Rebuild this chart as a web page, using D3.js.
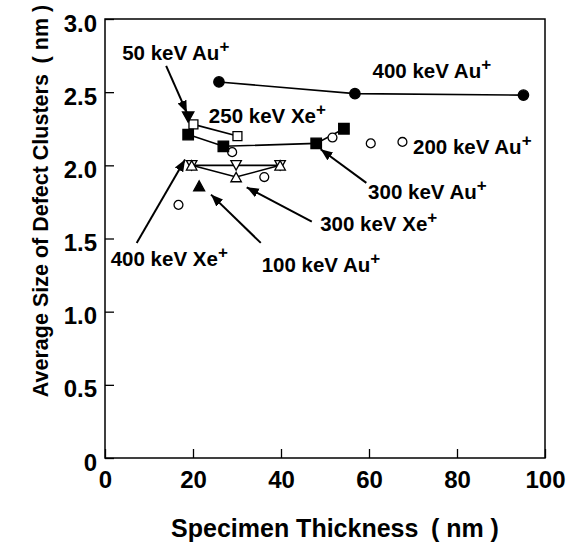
<!DOCTYPE html>
<html>
<head>
<meta charset="utf-8">
<script src="https://cdn.jsdelivr.net/npm/d3@7"></script>
<style>
  body { margin: 0; background: #fff; }
  text { font-family: "Liberation Sans", Arial, sans-serif; font-weight: bold; fill: #000; }
</style>
</head>
<body>
<div id="chart"></div>
<script>
// data (thickness nm, cluster size nm)
var au400 = [[25.9, 2.57], [56.8, 2.49], [95.1, 2.48]];
var xe250 = [[20.1, 2.28], [30.1, 2.20]];
var au300 = [[18.9, 2.21], [26.9, 2.13], [48.0, 2.15], [54.3, 2.25]];
var au50 = [[18.9, 2.33]];
var au200 = [[16.7, 1.73], [28.9, 2.09], [36.2, 1.92], [51.7, 2.19], [60.4, 2.15], [67.6, 2.16]];
var au100 = [[21.4, 1.86]];
var xe400 = [[19.7, 2.00], [29.8, 2.00], [39.8, 2.00]];
var xe300 = [[19.7, 2.00], [29.8, 1.92], [39.8, 2.00]];

var xTicks = [0, 20, 40, 60, 80, 100];
var yTicks = [0, 0.5, 1.0, 1.5, 2.0, 2.5, 3.0];

// labels: text, position (data units), arrow tail and head (data units) or null
var labels = [
  {ion: "50 keV Au", at: [3.9, 2.72], arrow: [[13.9, 2.68], [18.6, 2.36]]},
  {ion: "250 keV Xe", at: [23.6, 2.29], arrow: null},
  {ion: "400 keV Au", at: [60.8, 2.60], arrow: null},
  {ion: "200 keV Au", at: [70.0, 2.075], arrow: null},
  {ion: "300 keV Au", at: [59.8, 1.77], arrow: [[59.4, 1.88], [49.0, 2.11]]},
  {ion: "300 keV Xe", at: [48.9, 1.55], arrow: [[47.0, 1.615], [32.2, 1.85]]},
  {ion: "400 keV Xe", at: [1.3, 1.31], arrow: [[7.2, 1.47], [18.2, 2.04]]},
  {ion: "100 keV Au", at: [35.6, 1.27], arrow: [[35.4, 1.47], [24.1, 1.80]]}
];

var W = 581, H = 546;
var margin = {top: 19, right: 36, bottom: 88, left: 105};
var width = W - margin.left - margin.right,
    height = H - margin.top - margin.bottom;

var svg = d3.select("#chart").append("svg")
    .attr("width", W).attr("height", H);

svg.append("defs").append("marker")
    .attr("id", "head")
    .attr("viewBox", "0 0 10 10")
    .attr("refX", 10).attr("refY", 5)
    .attr("markerWidth", 12).attr("markerHeight", 12)
    .attr("markerUnits", "userSpaceOnUse")
    .attr("orient", "auto")
  .append("path").attr("d", "M0,1 L10,5 L0,9 Z").attr("fill", "#000");

var g = svg.append("g")
    .attr("transform", "translate(" + margin.left + "," + margin.top + ")");

var x = d3.scaleLinear().domain([0, 100]).range([0, width]);
var y = d3.scaleLinear().domain([0, 3]).range([height, 0]);

// frame
g.append("rect")
    .attr("width", width).attr("height", height)
    .attr("fill", "none").attr("stroke", "#000").attr("stroke-width", 1.5);

// axes with inward ticks
var xAxis = g.append("g")
    .attr("transform", "translate(0," + height + ")")
    .call(d3.axisBottom(x).tickValues(xTicks).tickSizeInner(-9).tickSizeOuter(0).tickPadding(13)
      .tickFormat(d3.format("d")));
xAxis.select(".domain").remove();
xAxis.selectAll("line").attr("stroke-width", 1.3);
xAxis.selectAll("text").style("font-size", "24px").style("font-family", "Liberation Sans, Arial, sans-serif").style("font-weight", "bold");

var yAxis = g.append("g")
    .call(d3.axisLeft(y).tickValues(yTicks).tickSizeInner(-9).tickSizeOuter(0).tickPadding(8)
      .tickFormat(function(d) { return d === 0 ? "0" : d3.format(".1f")(d); }));
yAxis.select(".domain").remove();
yAxis.selectAll("line").attr("stroke-width", 1.3);
yAxis.selectAll("text").attr("dy", "0.5em").style("font-size", "24px").style("font-family", "Liberation Sans, Arial, sans-serif").style("font-weight", "bold");

// axis titles
svg.append("text")
    .attr("x", 335).attr("y", 537)
    .attr("text-anchor", "middle")
    .style("font-size", "25px")
    .text("Specimen Thickness\u2002( nm )");
svg.append("text")
    .attr("transform", "translate(48," + 201 + ") rotate(-90)")
    .attr("text-anchor", "middle")
    .style("font-size", "21.5px")
    .text("Average Size of Defect Clusters\u2002( nm )");

// lines
var line = d3.line().x(function(d) { return x(d[0]); }).y(function(d) { return y(d[1]); });
[au400, xe250, au300, xe400, xe300].forEach(function(s) {
  g.append("path").datum(s)
    .attr("d", line)
    .attr("fill", "none").attr("stroke", "#000").attr("stroke-width", 1.6);
});

// markers
function drawSymbols(data, type, size, filled) {
  g.selectAll(null).data(data).enter().append("path")
    .attr("transform", function(d) { return "translate(" + x(d[0]) + "," + y(d[1]) + ")"; })
    .attr("d", d3.symbol().type(type).size(size))
    .attr("fill", filled ? "#000" : "#fff")
    .attr("stroke", "#000").attr("stroke-width", 1.3);
}
// triangles centred on their bounding box, so up + down overlap as an hourglass
function triangle(dir) {
  return {
    draw: function(ctx, size) {
      var w = Math.sqrt(size), h = w * 0.9;
      ctx.moveTo(-w / 2, -dir * h / 2);
      ctx.lineTo(w / 2, -dir * h / 2);
      ctx.lineTo(0, dir * h / 2);
      ctx.closePath();
    }
  };
}
var downTri = triangle(1), upTri = triangle(-1);

drawSymbols(au200, d3.symbolCircle, 62, false);
drawSymbols(xe250, d3.symbolSquare, 80, false);
drawSymbols(au300, d3.symbolSquare, 110, true);
drawSymbols(au400, d3.symbolCircle, 85, true);
drawSymbols(xe400, downTri, 110, false);
drawSymbols(xe300, upTri, 110, false);
drawSymbols(au50, downTri, 130, true);
drawSymbols(au100, upTri, 120, true);

// labels and arrows
labels.forEach(function(l) {
  var t = g.append("text")
      .attr("x", x(l.at[0])).attr("y", y(l.at[1]))
      .style("font-size", "20.5px");
  t.append("tspan").text(l.ion);
  t.append("tspan").attr("dy", -8).style("font-size", "17px").text("+");
  if (l.arrow) {
    g.append("line")
      .attr("x1", x(l.arrow[0][0])).attr("y1", y(l.arrow[0][1]))
      .attr("x2", x(l.arrow[1][0])).attr("y2", y(l.arrow[1][1]))
      .attr("stroke", "#000").attr("stroke-width", 2)
      .attr("marker-end", "url(#head)");
  }
});
</script>
</body>
</html>
